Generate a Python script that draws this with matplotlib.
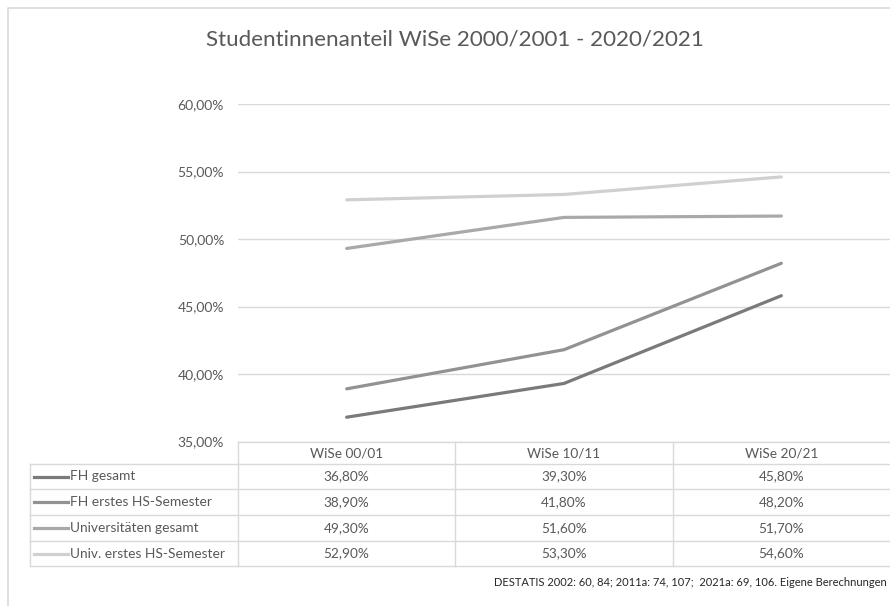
import matplotlib
matplotlib.use('Agg')
import matplotlib.pyplot as plt
import numpy as np

plt.rcParams['font.family'] = ['Lato', 'DejaVu Sans']

semester = ['WiSe 00/01', 'WiSe 10/11', 'WiSe 20/21']
series = ['FH gesamt', 'FH erstes HS-Semester', 'Universitäten gesamt', 'Univ. erstes HS-Semester']
fh_gesamt = [36.8, 39.3, 45.8]
fh_erstes = [38.9, 41.8, 48.2]
uni_gesamt = [49.3, 51.6, 51.7]
uni_erstes = [52.9, 53.3, 54.6]
values = [fh_gesamt, fh_erstes, uni_gesamt, uni_erstes]
colors = ['#7a7a7a', '#929292', '#a9a9a9', '#d0d0d0']

W, H = 890, 606
fig = plt.figure(figsize=(W / 100, H / 100), dpi=100)

# overlay in pixel coordinates for frame, table and texts
bg = fig.add_axes([0, 0, 1, 1])
bg.set_xlim(0, W)
bg.set_ylim(H, 0)
bg.axis('off')

x0, x1 = 238, 890
y_top, y_bot = 104, 441.5
ax = fig.add_axes([x0 / W, 1 - y_bot / H, (x1 - x0) / W, (y_bot - y_top) / H])
ax.set_xlim(-0.5, len(semester) - 0.5)
ax.set_ylim(35, 60)
ax.set_yticks(np.arange(35, 61, 5))
ax.yaxis.grid(True, color='#d9d9d9', linewidth=1)
ax.set_axisbelow(True)
ax.set_xticks([])
for s in ax.spines.values():
    s.set_visible(False)
ax.tick_params(axis='y', length=0, pad=10, labelsize=10, labelcolor='#595959')
ax.set_yticklabels([f'{v:.2f}'.replace('.', ',') + '%' for v in ax.get_yticks()])
ax.patch.set_alpha(0)

for vals, col in zip(values, colors):
    ax.plot(range(len(semester)), vals, color=col, linewidth=2.3, solid_capstyle='round')

# chart frame
bg.plot([8, 8, W], [H, 8, 8], color='#d9d9d9', linewidth=1.2)

bg.text(455, 40, 'Studentinnenanteil WiSe 2000/2001 - 2020/2021',
        ha='center', va='center', fontsize=16.1, color='#595959')

# data table below the plot
grid_c = '#d9d9d9'
col_w = (x1 - x0) / len(semester)
row_y = [441.5, 464, 489, 515, 541, 566]
bg.plot([x0, x1], [row_y[0], row_y[0]], color=grid_c, linewidth=1)
for y in row_y[1:]:
    bg.plot([30, x1], [y, y], color=grid_c, linewidth=1)
bg.plot([30, 30], [row_y[1], row_y[-1]], color=grid_c, linewidth=1)
for i in range(len(semester)):
    xv = x0 + i * col_w
    bg.plot([xv, xv], [row_y[0], row_y[-1]], color=grid_c, linewidth=1)

for i, name in enumerate(semester):
    bg.text(x0 + (i + 0.5) * col_w, (row_y[0] + row_y[1]) / 2 + 1, name,
            ha='center', va='center', fontsize=9.8, color='#595959')

for r, (name, vals, col) in enumerate(zip(series, values, colors)):
    yc = (row_y[r + 1] + row_y[r + 2]) / 2
    bg.plot([34, 68], [yc, yc], color=col, linewidth=2.3)
    bg.text(70, yc, name, ha='left', va='center', fontsize=9.9, color='#595959')
    for i, v in enumerate(vals):
        bg.text(x0 + (i + 0.5) * col_w, yc, f'{v:.2f}'.replace('.', ',') + '%',
                ha='center', va='center', fontsize=9.8, color='#595959')

bg.text(887, 583, 'DESTATIS 2002: 60, 84; 2011a: 74, 107;  2021a: 69, 106. Eigene Berechnungen',
        ha='right', va='center', fontsize=8, color='#262626')

fig.savefig('out.png', dpi=100)
